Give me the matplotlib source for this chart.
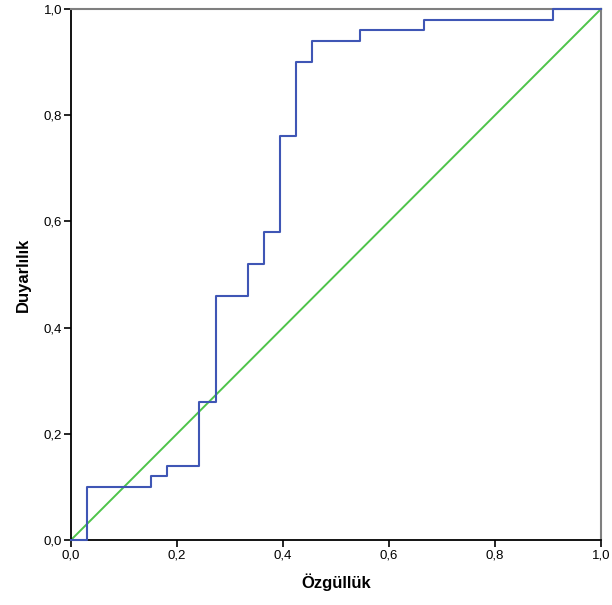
import matplotlib
matplotlib.use("Agg")
import matplotlib.pyplot as plt
from matplotlib.ticker import FuncFormatter

# ROC step curve (x = Özgüllük axis value, y = Duyarlılık)
fpr = [0.0, 1/33, 1/33, 5/33, 5/33, 6/33, 6/33, 8/33, 8/33, 9/33, 9/33, 11/33, 11/33,
       12/33, 12/33, 13/33, 13/33, 14/33, 14/33, 15/33, 15/33, 18/33, 18/33, 22/33, 22/33,
       30/33, 30/33, 1.0]
tpr = [0.0, 0.0, 0.10, 0.10, 0.12, 0.12, 0.14, 0.14, 0.26, 0.26, 0.46, 0.46, 0.52,
       0.52, 0.58, 0.58, 0.76, 0.76, 0.90, 0.90, 0.94, 0.94, 0.96, 0.96, 0.98,
       0.98, 1.0, 1.0]
ref_line = [0.0, 1.0]
ticks = [0.0, 0.2, 0.4, 0.6, 0.8, 1.0]

plt.rcParams['font.family'] = ['Liberation Sans', 'DejaVu Sans']

fig = plt.figure(figsize=(6.12, 6.05), dpi=100)
ax = fig.add_axes([71/612, 1 - 540/605, 530/612, 531/605])

ax.plot(ref_line, ref_line, color='#4ec44a', lw=1.4, zorder=2, clip_on=False)
ax.plot(fpr, tpr, color='#3f56b5', lw=1.5, zorder=3, clip_on=False)

ax.set_xlim(0, 1)
ax.set_ylim(0, 1)
ax.set_xticks(ticks)
ax.set_yticks(ticks)
fmt = FuncFormatter(lambda v, p: f"{v:.1f}".replace('.', ','))
ax.xaxis.set_major_formatter(fmt)
ax.yaxis.set_major_formatter(fmt)
ax.tick_params(direction='out', length=5, width=1.2, labelsize=9.5, colors='black', pad=1.5)

for s in ['left', 'bottom']:
    ax.spines[s].set_color('black')
    ax.spines[s].set_linewidth(1.3)
for s in ['top', 'right']:
    ax.spines[s].set_color('#7f7f7f')
    ax.spines[s].set_linewidth(1.5)

ax.set_xlabel('Özgüllük', fontsize=12, fontweight='bold', labelpad=9)
ax.set_ylabel('Duyarlılık', fontsize=12, fontweight='bold', labelpad=9)

fig.savefig('out.png', dpi=100)
